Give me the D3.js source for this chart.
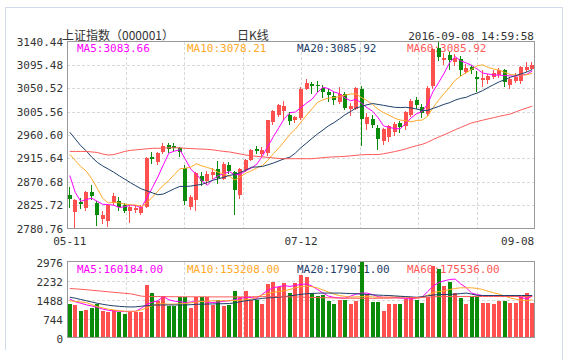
<!DOCTYPE html>
<html><head><meta charset="utf-8">
<script src="https://cdn.jsdelivr.net/npm/d3@7/dist/d3.min.js"></script>
<style>
body{margin:0;background:#fff;}
svg{display:block;}
.num{font-family:"DejaVu Sans Mono",monospace;font-size:11px;}
.cjk{font-family:"Noto Sans CJK SC","Noto Sans",sans-serif;font-size:12px;}
</style>
</head><body>
<svg id="c" width="569" height="360"></svg>
<script>
// ---------- data ----------
const dates = ["05-11","05-12","05-13","05-16","05-17","05-18","05-19","05-20","05-23","05-24","05-25","05-26","05-27","05-30","05-31",
"06-01","06-02","06-03","06-06","06-07","06-08","06-13","06-14","06-15","06-16","06-17","06-20","06-21","06-22","06-23","06-24","06-27","06-28","06-29","06-30",
"07-01","07-04","07-05","07-06","07-07","07-08","07-11","07-12","07-13","07-14","07-15","07-18","07-19","07-20","07-21","07-22","07-25","07-26","07-27","07-28","07-29",
"08-01","08-02","08-03","08-04","08-05","08-08","08-09","08-10","08-11","08-12","08-15","08-16","08-17","08-18","08-19","08-22","08-23","08-24","08-25","08-26","08-29","08-30","08-31",
"09-01","09-02","09-05","09-06","09-07","09-08"];

const open  = [2846,2812,2832,2821,2851,2829,2799,2795,2829,2834,2826,2815,2817,2811,2823,
2919,2909,2928,2942,2939,2935,2898,2823,2836,2882,2873,2883,2896,2876,2903,2889,2845,2894,2913,2933,
2925,2926,2986,3000,3006,3000,2990,2993,3050,3058,3057,3051,3043,3036,3024,3039,3010,3011,3049,2982,2992,
2974,2950,2957,2966,2984,2977,3000,3027,3015,3001,3054,3128,3105,3114,3101,3107,3081,3091,3073,3066,3067,3073,3076,
3085,3057,3064,3065,3086,3088];
const high  = [2860,2838,2840,2853,2864,2833,2815,2828,2850,2841,2830,2825,2826,2826,2918,
2928,2928,2946,2946,2945,2937,2902,2846,2889,2890,2891,2898,2911,2908,2909,2892,2897,2915,2933,2939,
2937,2990,3009,3020,3026,3005,2998,3052,3069,3062,3064,3056,3050,3043,3053,3044,3022,3052,3055,3002,3000,
2979,2974,2980,2985,2988,3007,3030,3033,3020,3054,3127,3140.44,3118,3120,3117,3112,3098,3095,3084,3085,3078,3086,3090,
3088,3072,3080,3094,3101,3101];
const low   = [2820,2780.76,2818,2815,2836,2786,2790,2784,2825,2815,2810,2792,2811,2806,2820,
2904,2902,2925,2926,2930,2918,2826,2817,2814,2862,2866,2876,2866,2875,2886,2807.5,2838,2890,2910,2925,
2920,2920,2980,2996,2989,2980,2983,2990,3048,3040,3044,3031,3025,3018,3020,3008,2998,3008,2940,2970,2975,
2931,2941,2948,2958,2965,2970,2996,3010,2994,2998,3050,3103,3095,3086,3093,3075,3078,3078,3043,3053,3058,3068,3070,
3053,3050,3060,3059,3082,3085];
const close = [2837.04,2835.86,2827.11,2850.86,2843.68,2807.51,2806.91,2825.48,2843.65,2821.67,2815.09,2822.44,2821.05,2822.45,2916.62,
2913.51,2925.23,2938.68,2934.10,2936.04,2927.16,2833.07,2842.19,2887.21,2872.82,2885.11,2888.81,2878.56,2905.55,2891.96,2854.29,2895.70,2912.56,2931.59,2929.61,
2932.48,2988.60,3006.39,3017.85,3016.85,2988.09,2994.92,3049.38,3060.69,3054.02,3054.30,3043.56,3036.60,3027.90,3039.01,3012.82,3015.83,3050.17,2992.00,2994.32,2979.34,
2953.39,2971.28,2978.46,2982.43,2976.70,3004.28,3025.68,3018.75,3002.64,3050.67,3125.20,3110.04,3109.04,3104.11,3108.10,3084.81,3089.71,3085.87,3068.33,3070.31,3074.68,3080.54,3085.49,
3063.31,3067.35,3072.10,3090.71,3091.93,3095.95];

const ma5  = [2882.57,2850.17,2832.94,2836.69,2838.91,2833.00,2827.21,2826.89,2825.45,2821.04,2822.56,2825.67,2824.78,2820.54,2839.53,
2859.21,2879.77,2903.30,2925.63,2929.51,2932.24,2913.81,2894.51,2885.13,2872.49,2864.08,2875.23,2882.50,2886.17,2890.00,2883.83,2885.21,2892.01,2897.22,2904.75,
2920.39,2938.97,2957.73,2974.99,2992.43,3003.56,3004.82,3013.42,3021.99,3029.42,3042.66,3052.39,3049.83,3043.28,3040.27,3031.98,3026.43,3029.15,3021.97,3013.03,3006.33,
2993.84,2978.07,2975.36,2972.98,2972.45,2982.63,2993.51,3001.57,3005.61,3020.40,3044.59,3061.46,3079.52,3099.81,3111.30,3103.22,3099.15,3094.52,3087.36,3079.81,3077.78,3075.95,3075.87,
3074.87,3074.27,3073.76,3075.79,3077.08,3083.61];
const ma10 = [2923.43,2911.65,2899.80,2891.06,2876.16,2857.79,2838.69,2829.92,2831.07,2829.98,2827.78,2826.44,2825.83,2822.99,2830.29,
2840.89,2852.72,2864.04,2873.08,2884.52,2895.73,2896.79,2898.91,2905.38,2901.00,2898.16,2894.52,2888.51,2885.65,2881.24,2873.96,2880.22,2887.26,2891.70,2897.37,
2902.11,2912.09,2924.87,2936.10,2948.59,2961.97,2971.89,2985.58,2998.49,3010.93,3023.11,3028.61,3031.63,3032.63,3034.85,3037.32,3039.41,3039.49,3032.62,3026.65,3019.16,
3010.14,3003.61,2998.66,2993.00,2989.39,2988.24,2985.79,2988.46,2989.30,2996.43,3013.61,3027.49,3040.54,3052.71,3065.85,3073.90,3080.31,3087.02,3093.59,3095.55,3090.50,3087.55,3085.20,
3081.12,3077.04,3075.77,3075.87,3076.48,3079.24];
const ma20 = [2966,2953,2940,2930,2918,2908,2901,2895,2889,2882,2875.61,2869.05,2862.82,2857.03,2853.23,
2849.34,2845.71,2846.98,2852.08,2857.25,2861.76,2861.62,2862.37,2864.19,2865.65,2869.53,2873.62,2876.28,2879.37,2882.88,2884.85,2888.51,2893.09,2898.54,2899.19,
2900.14,2903.31,2906.69,2910.88,2914.92,2917.97,2926.06,2936.42,2945.10,2954.15,2962.61,2970.35,2978.25,2984.37,2991.72,2999.65,3005.65,3012.54,3015.56,3018.79,3021.14,
3019.38,3017.62,3015.65,3013.93,3013.36,3013.83,3012.64,3010.54,3007.98,3007.80,3011.88,3015.55,3019.60,3022.86,3027.62,3031.07,3033.05,3037.74,3041.45,3045.99,3052.06,3057.52,3062.87,
3066.92,3071.45,3074.84,3078.09,3081.75,3086.42];
const ma60 = [2929,2929,2929,2929,2928,2927,2924,2922,2923,2926,2929,2931,2932,2933,2934,
2935,2935,2935.5,2936,2936,2936,2935,2934.5,2934,2933.5,2933,2932,2930.5,2929,2928,2926,2924,2922,2920.5,2919.5,
2918.5,2917.5,2916.5,2915.5,2915,2915,2915,2915,2915,2915,2916,2917,2918,2918.5,2919,2919.5,2920.5,2921.5,2922.5,2923,2923,
2923,2924.5,2926.5,2928.70,2931.03,2933.83,2937.14,2939.94,2942.59,2946.64,2951.95,2956.69,2961.11,2965.82,2970.70,2975.08,2979.55,2983.94,2986.47,2989.08,2991.58,2993.94,2996.46,
2998.59,3000.92,3004.91,3009.05,3012.46,3016.18];

const volume = [1300,1274,1028,1096,1137,1300,1028,1000,1069,1000,932,1000,1000,1000,2055,
1754,1439,1644,1233,1233,1603,1603,1137,1603,1603,1603,1274,1480,1233,1274,1808,1603,1808,1466,1480,
1302,2082,2192,1987,2124,1740,2124,2439,2370,1740,1630,1671,1439,1329,1466,1466,1329,1439,2976,1713,1397,
1397,1055,1302,1329,1302,1507,1534,1480,1370,1576,2800,2680,2028,2165,1740,1534,1329,1603,1576,1343,1343,1329,1411,
1439,1343,1343,1603,1754,1370];
const vma5  = [1507,1400,1340,1280,1233,1180,1110,1070,1040,1028,1020,1020,1025,1150,1300,
1380,1440,1600,1480,1420,1400,1370,1390,1410,1420,1390,1370,1390,1420,1440,1480,1530,1576,1560,1534,
1700,1850,1950,1990,2030,2000,2040,2080,2096,2014,1880,1740,1620,1570,1550,1534,1620,1700,1740,1740,1680,
1600,1576,1576,1570,1545,1530,1507,1540,1576,1800,2014,2151,2220,2270,2288,2100,1950,1740,1680,1644,1644,1644,1644,
1644,1644,1620,1570,1507,1617];
const vma10 = [1439,1415,1390,1370,1290,1210,1160,1110,1080,1050,1030,1028,1028,1080,1165,
1250,1329,1320,1305,1310,1320,1329,1360,1395,1410,1425,1439,1439,1439,1439,1450,1465,1475,1500,1580,
1670,1720,1770,1800,1830,1880,1950,1990,2014,1990,1940,1860,1780,1700,1640,1610,1580,1590,1600,1603,1590,
1576,1576,1576,1590,1600,1600,1570,1540,1570,1650,1760,1800,1825,1880,1920,1946,1946,1946,1920,1880,1810,1750,1700,
1620,1550,1500,1460,1440,1480];
const vma20 = [1576,1540,1490,1440,1390,1340,1300,1265,1240,1220,1205,1195,1200,1225,1245,
1265,1274,1274,1274,1274,1274,1275,1285,1300,1305,1310,1315,1320,1325,1329,1360,1400,1440,1470,1500,
1534,1550,1565,1580,1600,1630,1660,1690,1713,1725,1735,1740,1740,1740,1740,1730,1720,1713,1700,1685,1671,
1660,1650,1644,1630,1615,1603,1590,1576,1600,1630,1660,1685,1685,1685,1700,1720,1740,1700,1650,1644,1644,1644,1644,
1644,1644,1644,1644,1644,1644];
const vma60 = [1918,1905,1890,1870,1850,1830,1810,1790,1770,1750,1730,1712,1670,1620,1603,
1603,1603,1600,1598,1596,1595,1595,1594,1594,1593,1592,1590,1590,1590,1590,1590,1592,1594,1596,1598,
1600,1602,1604,1600,1595,1590,1585,1580,1575,1570,1565,1560,1555,1550,1545,1540,1538,1536,1534,1534,1534,
1536,1538,1540,1545,1550,1555,1560,1565,1570,1580,1590,1600,1603,1605,1605,1605,1605,1605,1605,1605,1605,1605,1605,
1605,1605,1605,1605,1605,1605];

const priceTicks = [3140.44,3095.48,3050.52,3005.56,2960.60,2915.64,2870.68,2825.72,2780.76];
const volTicks = [2976,2232,1488,744,0];
const dateTicks = ["05-11","07-12","09-08"];
const title = "上证指数（000001）";
const subtitle = "日K线";
const stamp = "2016-09-08 14:59:58";
const maNames = ["MA5","MA10","MA20","MA60"];
const maLegend = ["3083.66","3078.21","3085.92","3085.92"];
const vmaLegend = ["160184.00","153208.00","179011.00","175536.00"];
const maColors = ["#f0f","#ffa928","#1e406a","#ff5a5a"];

// ---------- layout ----------
const svg = d3.select("#c");
const L = 67, R = 535, pT = 41.5, pB = 228.5, vT = 261.5, vB = 337.5;
const RED = "#ff5050", GREEN = "#0a8c0a";

const x = d3.scaleBand().domain(dates).range([L, R]).paddingInner(0.26).paddingOuter(0.13);
const y = d3.scaleLinear().domain([d3.min(priceTicks), d3.max(priceTicks)]).range([pB, pT]);
const yv = d3.scaleLinear().domain([0, d3.max(volTicks)]).range([vB, vT]);
const bw = 4;
const cx = d => x(d) + x.bandwidth() / 2;
const bx = d => Math.round(cx(d) - bw / 2);

// outer frame
const frame = svg.append("g").attr("stroke", "#cfdbe8").attr("fill", "none").attr("shape-rendering", "crispEdges");
frame.append("path").attr("d", "M5.5,350 V7.5 H562.5 V360");

// header
svg.append("text").attr("class", "cjk").attr("x", 62).attr("y", 40).attr("fill", "#333").text(title);
svg.append("text").attr("class", "cjk").attr("x", 253).attr("y", 40).attr("text-anchor", "middle").attr("fill", "#333").text(subtitle);
svg.append("text").attr("class", "num").attr("x", 534).attr("y", 40).attr("text-anchor", "end").attr("fill", "#333").text(stamp);

function panel(yScale, ticks, top, bot, fmt, labelDy) {
  const g = svg.append("g").attr("shape-rendering", "crispEdges");
  // grid
  g.selectAll("line.h").data(ticks.filter(t => t !== d3.min(ticks) && t !== d3.max(ticks)))
    .join("line").attr("x1", L).attr("x2", R)
    .attr("y1", d => Math.round(yScale(d)) + 0.5).attr("y2", d => Math.round(yScale(d)) + 0.5)
    .attr("stroke", "#d9d9d9").attr("stroke-dasharray", "3,2");
  const vx = d3.range(1, 8).map(k => L + k * (R - L) / 8);
  g.selectAll("line.v").data(vx).join("line")
    .attr("x1", d => Math.round(d) + 0.5).attr("x2", d => Math.round(d) + 0.5)
    .attr("y1", top).attr("y2", bot)
    .attr("stroke", "#d9d9d9").attr("stroke-dasharray", "3,2");
  // axis labels
  const ax = svg.append("g").attr("transform", "translate(63,0)")
    .call(d3.axisLeft(yScale).tickValues(ticks).tickSize(0).tickPadding(0).tickFormat(fmt));
  ax.select(".domain").remove();
  ax.selectAll("text").attr("class", "num").attr("fill", "#333").attr("dy", labelDy)
    .style("font-family", '"DejaVu Sans Mono",monospace').style("font-size", "11px");
}
panel(y, priceTicks, pT, pB, d3.format(".2f"), "0.32em");
panel(yv, volTicks, vT, vB, d3.format("d"), "0.45em");

// legends (drawn under marks)
maNames.forEach((n, k) => {
  svg.append("text").attr("class", "num").attr("x", 77 + 110 * k).attr("y", 52)
    .attr("fill", maColors[k]).text(n + ":" + maLegend[k]);
  svg.append("text").attr("class", "num").attr("x", 77 + 110 * k).attr("y", 273)
    .attr("fill", maColors[k]).text(n + ":" + vmaLegend[k]);
});

// candles
const up = i => close[i] >= open[i];
const cg = svg.append("g").attr("shape-rendering", "crispEdges");
dates.forEach((d, i) => {
  const col = up(i) ? RED : GREEN;
  const left = bx(d);
  cg.append("line").attr("x1", left + 1.5).attr("x2", left + 1.5)
    .attr("y1", y(high[i])).attr("y2", y(low[i])).attr("stroke", col);
  const top = Math.min(y(open[i]), y(close[i]));
  const h = Math.max(1, Math.abs(y(open[i]) - y(close[i])));
  cg.append("rect").attr("x", left).attr("width", bw).attr("y", top).attr("height", h).attr("fill", col);
});

// volume bars
svg.append("g").attr("shape-rendering", "crispEdges").selectAll("rect").data(dates).join("rect")
  .attr("x", d => bx(d)).attr("width", bw)
  .attr("y", (d, i) => yv(volume[i])).attr("height", (d, i) => vB - yv(volume[i]))
  .attr("fill", (d, i) => up(i) ? RED : GREEN);

// MA lines
const lineP = arr => d3.line().x((d, i) => cx(dates[i])).y(d => y(d))(arr);
const lineV = arr => d3.line().x((d, i) => cx(dates[i])).y(d => yv(d))(arr);
[ma5, ma10, ma20, ma60].forEach((arr, k) => {
  svg.append("path").attr("d", lineP(arr)).attr("fill", "none").attr("stroke", maColors[k]).attr("stroke-width", 1);
});
[vma5, vma10, vma20, vma60].forEach((arr, k) => {
  svg.append("path").attr("d", lineV(arr)).attr("fill", "none").attr("stroke", maColors[k]).attr("stroke-width", 1);
});

// plot frames
svg.append("rect").attr("x", L + 0.5).attr("y", pT).attr("width", R - L - 1).attr("height", pB - pT)
  .attr("fill", "none").attr("stroke", "#999").attr("shape-rendering", "crispEdges");
svg.append("rect").attr("x", L + 0.5).attr("y", vT).attr("width", R - L - 1).attr("height", vB - vT)
  .attr("fill", "none").attr("stroke", "#999").attr("shape-rendering", "crispEdges");

// date axis
const dx = svg.append("g").attr("transform", "translate(0,241)")
  .call(d3.axisBottom(x).tickValues(dateTicks).tickSize(0).tickPadding(0));
dx.select(".domain").remove();
dx.selectAll("text").attr("fill", "#333").attr("dy", "0.32em")
  .style("font-family", '"DejaVu Sans Mono",monospace').style("font-size", "11px");
dx.selectAll(".tick").filter(d => d === dateTicks[dateTicks.length - 1]).select("text")
  .attr("text-anchor", "end").attr("x", 2);
</script>
</body></html>
